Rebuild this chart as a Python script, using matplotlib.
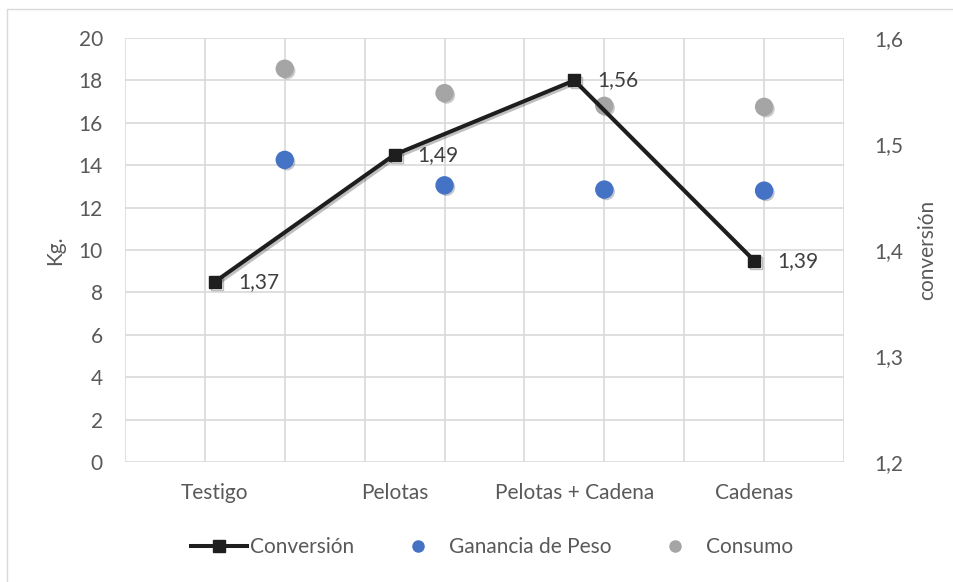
import matplotlib.pyplot as plt
import matplotlib.patheffects as pe
from matplotlib.lines import Line2D
from matplotlib.ticker import FuncFormatter

# datos
categorias = ['Testigo', 'Pelotas', 'Pelotas + Cadena', 'Cadenas']
conversion = [1.37, 1.49, 1.56, 1.39]
ganancia_x = [1, 2, 3, 4]
ganancia_peso = [14.25, 13.05, 12.85, 12.8]
consumo_x = [1, 2, 3, 4]
consumo = [18.55, 17.4, 16.8, 16.75]
kg_ticks = list(range(0, 21, 2))
conv_ticks = [1.2, 1.3, 1.4, 1.5, 1.6]

plt.rcParams['font.family'] = ['Lato', 'DejaVu Sans']
gris_txt = '#595959'
azul = '#4472C4'
gris = '#A5A5A5'
negro = '#1E1E1E'
fs = 15

fig = plt.figure(figsize=(9.54, 5.82), dpi=100)
W, H = 954, 582
rect = [125 / W, (H - 462) / H, 719 / W, 424 / H]

# marco exterior
fig.add_artist(Line2D([7 / W, 7 / W, 1], [0, 1 - 9 / H, 1 - 9 / H],
                      transform=fig.transFigure, color='#D9D9D9', lw=1))

# eje de dispersion (Kg.)
ax = fig.add_axes(rect)
ax.set_xlim(0, 4.5)
ax.set_ylim(0, 20)
ax.set_xticks([i * 0.5 for i in range(10)])
ax.set_yticks(kg_ticks)
ax.grid(True, color='#D9D9D9', lw=1.2)
ax.set_axisbelow(True)
for s in ax.spines.values():
    s.set_visible(False)
ax.tick_params(axis='x', length=0, labelbottom=False)
ax.tick_params(axis='y', length=0, pad=16, labelsize=fs, labelcolor=gris_txt)
ax.set_ylabel('Kg.', fontsize=fs, color=gris_txt, labelpad=10)

sombra = [pe.SimplePatchShadow(offset=(1.5, -1.5), alpha=0.25), pe.Normal()]
ax.scatter(consumo_x, consumo, s=150, color=gris, zorder=3, path_effects=sombra)
ax.scatter(ganancia_x, ganancia_peso, s=150, color=azul, zorder=3, path_effects=sombra)

# eje de categorias (conversión)
ax2 = fig.add_axes(rect, frameon=False)
ax2.set_xlim(-0.5, 3.5)
ax2.set_ylim(1.2, 1.6)
ax2.set_xticks(range(len(categorias)), categorias)
ax2.set_yticks(conv_ticks)
ax2.yaxis.tick_right()
ax2.yaxis.set_label_position('right')
ax2.yaxis.set_major_formatter(FuncFormatter(lambda v, p: f'{v:.1f}'.replace('.', ',')))
ax2.tick_params(axis='x', length=0, pad=15, labelsize=fs, labelcolor=gris_txt)
ax2.tick_params(axis='y', length=0, pad=22, labelsize=fs, labelcolor=gris_txt)
ax2.set_ylabel('conversión', fontsize=fs, color=gris_txt, labelpad=10)

ax2.plot(range(len(categorias)), conversion, color=negro, lw=2.9, marker='s',
         markersize=8.5, zorder=4,
         path_effects=[pe.SimpleLineShadow(offset=(1.5, -1.5), alpha=0.25), pe.Normal()])
for i, v in enumerate(conversion):
    ax2.annotate(f'{v:.2f}'.replace('.', ','), (i, v), xytext=(23, 0),
                 textcoords='offset pixels', ha='left', va='center',
                 fontsize=fs, color='#404040')

handles = [
    Line2D([], [], color=negro, lw=2.9, marker='s', markersize=9),
    Line2D([], [], ls='none', marker='o', color=azul, markersize=8),
    Line2D([], [], ls='none', marker='o', color=gris, markersize=8),
]
fig.legend(handles, ['Conversión', 'Ganancia de Peso', 'Consumo'], loc='center',
           bbox_to_anchor=(492 / W, 1 - 547 / H), ncol=3, frameon=False,
           fontsize=fs, labelcolor=gris_txt, handlelength=2.7, handletextpad=0.15,
           columnspacing=1.7)

fig.savefig('out.png', dpi=100)
